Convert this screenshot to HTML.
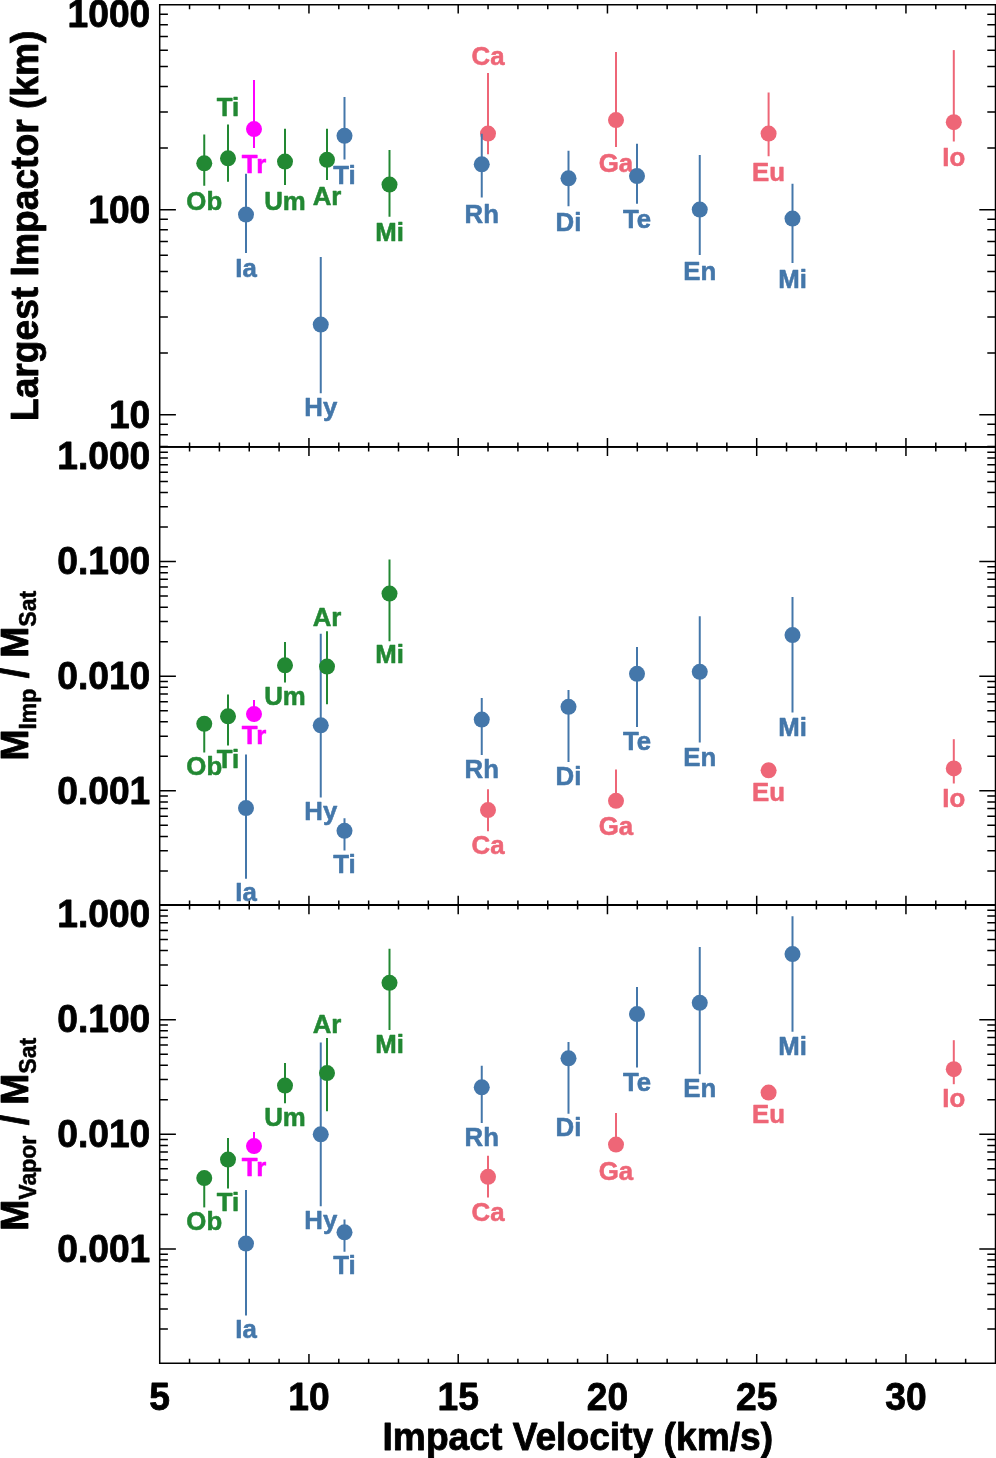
<!DOCTYPE html>
<html lang="en"><head><meta charset="utf-8"><title>Impact Velocity</title>
<style>
html,body{margin:0;padding:0;background:#fff;}
svg{display:block}
text{font-family:"Liberation Sans",Arial,Helvetica,sans-serif;font-weight:bold}
.ax{font-size:37.2px;fill:#000;stroke:#000;stroke-width:0.8;stroke-linejoin:round}
.lb{font-size:25.8px;text-anchor:middle;stroke-width:0.55;stroke-linejoin:round}
.tk{stroke:#000;stroke-width:1.5;fill:none;stroke-linecap:butt}
.eb{stroke-width:2.0;fill:none}
</style></head><body>
<svg width="996" height="1458" viewBox="0 0 996 1458">
<rect width="996" height="1458" fill="#fff"/>
<path class="tk" d="M158.95 4.80L996.50 4.80M158.95 446.90L996.50 446.90M158.95 905.00L996.50 905.00M158.95 1363.30L996.50 1363.30M159.70 4.80L159.70 1363.30M995.50 4.80L995.50 1363.30M159.70 4.80L159.70 13.60M159.70 438.10L159.70 456.10M159.70 895.80L159.70 914.20M159.70 1354.10L159.70 1363.30M189.55 4.80L189.55 9.20M189.55 442.50L189.55 451.50M189.55 900.40L189.55 909.60M189.55 1358.70L189.55 1363.30M219.40 4.80L219.40 9.20M219.40 442.50L219.40 451.50M219.40 900.40L219.40 909.60M219.40 1358.70L219.40 1363.30M249.25 4.80L249.25 9.20M249.25 442.50L249.25 451.50M249.25 900.40L249.25 909.60M249.25 1358.70L249.25 1363.30M279.10 4.80L279.10 9.20M279.10 442.50L279.10 451.50M279.10 900.40L279.10 909.60M279.10 1358.70L279.10 1363.30M308.95 4.80L308.95 13.60M308.95 438.10L308.95 456.10M308.95 895.80L308.95 914.20M308.95 1354.10L308.95 1363.30M338.80 4.80L338.80 9.20M338.80 442.50L338.80 451.50M338.80 900.40L338.80 909.60M338.80 1358.70L338.80 1363.30M368.65 4.80L368.65 9.20M368.65 442.50L368.65 451.50M368.65 900.40L368.65 909.60M368.65 1358.70L368.65 1363.30M398.50 4.80L398.50 9.20M398.50 442.50L398.50 451.50M398.50 900.40L398.50 909.60M398.50 1358.70L398.50 1363.30M428.35 4.80L428.35 9.20M428.35 442.50L428.35 451.50M428.35 900.40L428.35 909.60M428.35 1358.70L428.35 1363.30M458.20 4.80L458.20 13.60M458.20 438.10L458.20 456.10M458.20 895.80L458.20 914.20M458.20 1354.10L458.20 1363.30M488.05 4.80L488.05 9.20M488.05 442.50L488.05 451.50M488.05 900.40L488.05 909.60M488.05 1358.70L488.05 1363.30M517.90 4.80L517.90 9.20M517.90 442.50L517.90 451.50M517.90 900.40L517.90 909.60M517.90 1358.70L517.90 1363.30M547.75 4.80L547.75 9.20M547.75 442.50L547.75 451.50M547.75 900.40L547.75 909.60M547.75 1358.70L547.75 1363.30M577.60 4.80L577.60 9.20M577.60 442.50L577.60 451.50M577.60 900.40L577.60 909.60M577.60 1358.70L577.60 1363.30M607.45 4.80L607.45 13.60M607.45 438.10L607.45 456.10M607.45 895.80L607.45 914.20M607.45 1354.10L607.45 1363.30M637.30 4.80L637.30 9.20M637.30 442.50L637.30 451.50M637.30 900.40L637.30 909.60M637.30 1358.70L637.30 1363.30M667.15 4.80L667.15 9.20M667.15 442.50L667.15 451.50M667.15 900.40L667.15 909.60M667.15 1358.70L667.15 1363.30M697.00 4.80L697.00 9.20M697.00 442.50L697.00 451.50M697.00 900.40L697.00 909.60M697.00 1358.70L697.00 1363.30M726.85 4.80L726.85 9.20M726.85 442.50L726.85 451.50M726.85 900.40L726.85 909.60M726.85 1358.70L726.85 1363.30M756.70 4.80L756.70 13.60M756.70 438.10L756.70 456.10M756.70 895.80L756.70 914.20M756.70 1354.10L756.70 1363.30M786.55 4.80L786.55 9.20M786.55 442.50L786.55 451.50M786.55 900.40L786.55 909.60M786.55 1358.70L786.55 1363.30M816.40 4.80L816.40 9.20M816.40 442.50L816.40 451.50M816.40 900.40L816.40 909.60M816.40 1358.70L816.40 1363.30M846.25 4.80L846.25 9.20M846.25 442.50L846.25 451.50M846.25 900.40L846.25 909.60M846.25 1358.70L846.25 1363.30M876.10 4.80L876.10 9.20M876.10 442.50L876.10 451.50M876.10 900.40L876.10 909.60M876.10 1358.70L876.10 1363.30M905.95 4.80L905.95 13.60M905.95 438.10L905.95 456.10M905.95 895.80L905.95 914.20M905.95 1354.10L905.95 1363.30M935.80 4.80L935.80 9.20M935.80 442.50L935.80 451.50M935.80 900.40L935.80 909.60M935.80 1358.70L935.80 1363.30M965.65 4.80L965.65 9.20M965.65 442.50L965.65 451.50M965.65 900.40L965.65 909.60M965.65 1358.70L965.65 1363.30M995.50 4.80L995.50 9.20M995.50 442.50L995.50 451.50M995.50 900.40L995.50 909.60M995.50 1358.70L995.50 1363.30M159.70 446.55L167.90 446.55M987.30 446.55L995.50 446.55M159.70 434.67L167.90 434.67M987.30 434.67L995.50 434.67M159.70 424.18L167.90 424.18M987.30 424.18L995.50 424.18M159.70 414.80L175.90 414.80M979.30 414.80L995.50 414.80M159.70 353.09L167.90 353.09M987.30 353.09L995.50 353.09M159.70 316.99L167.90 316.99M987.30 316.99L995.50 316.99M159.70 291.38L167.90 291.38M987.30 291.38L995.50 291.38M159.70 271.51L167.90 271.51M987.30 271.51L995.50 271.51M159.70 255.28L167.90 255.28M987.30 255.28L995.50 255.28M159.70 241.55L167.90 241.55M987.30 241.55L995.50 241.55M159.70 229.67L167.90 229.67M987.30 229.67L995.50 229.67M159.70 219.18L167.90 219.18M987.30 219.18L995.50 219.18M159.70 209.80L175.90 209.80M979.30 209.80L995.50 209.80M159.70 148.09L167.90 148.09M987.30 148.09L995.50 148.09M159.70 111.99L167.90 111.99M987.30 111.99L995.50 111.99M159.70 86.38L167.90 86.38M987.30 86.38L995.50 86.38M159.70 66.51L167.90 66.51M987.30 66.51L995.50 66.51M159.70 50.28L167.90 50.28M987.30 50.28L995.50 50.28M159.70 36.55L167.90 36.55M987.30 36.55L995.50 36.55M159.70 24.67L167.90 24.67M987.30 24.67L995.50 24.67M159.70 14.18L167.90 14.18M987.30 14.18L995.50 14.18M159.70 4.80L175.90 4.80M979.30 4.80L995.50 4.80M159.70 870.99L167.90 870.99M987.30 870.99L995.50 870.99M159.70 850.80L167.90 850.80M987.30 850.80L995.50 850.80M159.70 836.47L167.90 836.47M987.30 836.47L995.50 836.47M159.70 825.36L167.90 825.36M987.30 825.36L995.50 825.36M159.70 816.28L167.90 816.28M987.30 816.28L995.50 816.28M159.70 808.61L167.90 808.61M987.30 808.61L995.50 808.61M159.70 801.96L167.90 801.96M987.30 801.96L995.50 801.96M159.70 796.10L167.90 796.10M987.30 796.10L995.50 796.10M159.70 790.85L175.90 790.85M979.30 790.85L995.50 790.85M159.70 756.34L167.90 756.34M987.30 756.34L995.50 756.34M159.70 736.15L167.90 736.15M987.30 736.15L995.50 736.15M159.70 721.82L167.90 721.82M987.30 721.82L995.50 721.82M159.70 710.71L167.90 710.71M987.30 710.71L995.50 710.71M159.70 701.63L167.90 701.63M987.30 701.63L995.50 701.63M159.70 693.96L167.90 693.96M987.30 693.96L995.50 693.96M159.70 687.31L167.90 687.31M987.30 687.31L995.50 687.31M159.70 681.45L167.90 681.45M987.30 681.45L995.50 681.45M159.70 676.20L175.90 676.20M979.30 676.20L995.50 676.20M159.70 641.69L167.90 641.69M987.30 641.69L995.50 641.69M159.70 621.50L167.90 621.50M987.30 621.50L995.50 621.50M159.70 607.17L167.90 607.17M987.30 607.17L995.50 607.17M159.70 596.06L167.90 596.06M987.30 596.06L995.50 596.06M159.70 586.98L167.90 586.98M987.30 586.98L995.50 586.98M159.70 579.31L167.90 579.31M987.30 579.31L995.50 579.31M159.70 572.66L167.90 572.66M987.30 572.66L995.50 572.66M159.70 566.80L167.90 566.80M987.30 566.80L995.50 566.80M159.70 561.55L175.90 561.55M979.30 561.55L995.50 561.55M159.70 527.04L167.90 527.04M987.30 527.04L995.50 527.04M159.70 506.85L167.90 506.85M987.30 506.85L995.50 506.85M159.70 492.52L167.90 492.52M987.30 492.52L995.50 492.52M159.70 481.41L167.90 481.41M987.30 481.41L995.50 481.41M159.70 472.33L167.90 472.33M987.30 472.33L995.50 472.33M159.70 464.66L167.90 464.66M987.30 464.66L995.50 464.66M159.70 458.01L167.90 458.01M987.30 458.01L995.50 458.01M159.70 452.15L167.90 452.15M987.30 452.15L995.50 452.15M159.70 1329.09L167.90 1329.09M987.30 1329.09L995.50 1329.09M159.70 1308.90L167.90 1308.90M987.30 1308.90L995.50 1308.90M159.70 1294.57L167.90 1294.57M987.30 1294.57L995.50 1294.57M159.70 1283.46L167.90 1283.46M987.30 1283.46L995.50 1283.46M159.70 1274.38L167.90 1274.38M987.30 1274.38L995.50 1274.38M159.70 1266.71L167.90 1266.71M987.30 1266.71L995.50 1266.71M159.70 1260.06L167.90 1260.06M987.30 1260.06L995.50 1260.06M159.70 1254.20L167.90 1254.20M987.30 1254.20L995.50 1254.20M159.70 1248.95L175.90 1248.95M979.30 1248.95L995.50 1248.95M159.70 1214.44L167.90 1214.44M987.30 1214.44L995.50 1214.44M159.70 1194.25L167.90 1194.25M987.30 1194.25L995.50 1194.25M159.70 1179.92L167.90 1179.92M987.30 1179.92L995.50 1179.92M159.70 1168.81L167.90 1168.81M987.30 1168.81L995.50 1168.81M159.70 1159.73L167.90 1159.73M987.30 1159.73L995.50 1159.73M159.70 1152.06L167.90 1152.06M987.30 1152.06L995.50 1152.06M159.70 1145.41L167.90 1145.41M987.30 1145.41L995.50 1145.41M159.70 1139.55L167.90 1139.55M987.30 1139.55L995.50 1139.55M159.70 1134.30L175.90 1134.30M979.30 1134.30L995.50 1134.30M159.70 1099.79L167.90 1099.79M987.30 1099.79L995.50 1099.79M159.70 1079.60L167.90 1079.60M987.30 1079.60L995.50 1079.60M159.70 1065.27L167.90 1065.27M987.30 1065.27L995.50 1065.27M159.70 1054.16L167.90 1054.16M987.30 1054.16L995.50 1054.16M159.70 1045.08L167.90 1045.08M987.30 1045.08L995.50 1045.08M159.70 1037.41L167.90 1037.41M987.30 1037.41L995.50 1037.41M159.70 1030.76L167.90 1030.76M987.30 1030.76L995.50 1030.76M159.70 1024.90L167.90 1024.90M987.30 1024.90L995.50 1024.90M159.70 1019.65L175.90 1019.65M979.30 1019.65L995.50 1019.65M159.70 985.14L167.90 985.14M987.30 985.14L995.50 985.14M159.70 964.95L167.90 964.95M987.30 964.95L995.50 964.95M159.70 950.62L167.90 950.62M987.30 950.62L995.50 950.62M159.70 939.51L167.90 939.51M987.30 939.51L995.50 939.51M159.70 930.43L167.90 930.43M987.30 930.43L995.50 930.43M159.70 922.76L167.90 922.76M987.30 922.76L995.50 922.76M159.70 916.11L167.90 916.11M987.30 916.11L995.50 916.11M159.70 910.25L167.90 910.25M987.30 910.25L995.50 910.25"/>
<path class="tk" style="stroke-width:1.85" d="M159.70 446.90H996.50M159.70 905.00H996.50"/>
<text class="ax" transform="translate(150.3,26.9) scale(1,1.02)" text-anchor="end">1000</text>
<text class="ax" transform="translate(150.3,222.9) scale(1,1.02)" text-anchor="end">100</text>
<text class="ax" transform="translate(150.3,427.7) scale(1,1.02)" text-anchor="end">10</text>
<text class="ax" transform="translate(150.3,468.7) scale(1,1.02)" text-anchor="end">1.000</text>
<text class="ax" transform="translate(150.3,574.1) scale(1,1.02)" text-anchor="end">0.100</text>
<text class="ax" transform="translate(150.3,688.8) scale(1,1.02)" text-anchor="end">0.010</text>
<text class="ax" transform="translate(150.3,803.5) scale(1,1.02)" text-anchor="end">0.001</text>
<text class="ax" transform="translate(150.3,927.2) scale(1,1.02)" text-anchor="end">1.000</text>
<text class="ax" transform="translate(150.3,1032.2) scale(1,1.02)" text-anchor="end">0.100</text>
<text class="ax" transform="translate(150.3,1146.9) scale(1,1.02)" text-anchor="end">0.010</text>
<text class="ax" transform="translate(150.3,1261.5) scale(1,1.02)" text-anchor="end">0.001</text>
<text class="ax" transform="translate(159.7,1410) scale(1,1.02)" text-anchor="middle">5</text>
<text class="ax" transform="translate(308.9,1410) scale(1,1.02)" text-anchor="middle">10</text>
<text class="ax" transform="translate(458.2,1410) scale(1,1.02)" text-anchor="middle">15</text>
<text class="ax" transform="translate(607.5,1410) scale(1,1.02)" text-anchor="middle">20</text>
<text class="ax" transform="translate(756.7,1410) scale(1,1.02)" text-anchor="middle">25</text>
<text class="ax" transform="translate(906.0,1410) scale(1,1.02)" text-anchor="middle">30</text>
<text class="ax" transform="translate(577.8,1450) scale(1,1.02)" text-anchor="middle">Impact Velocity (km/s)</text>
<text class="ax" transform="translate(38,225.8) rotate(-90) scale(1,1.02)" text-anchor="middle">Largest Impactor (km)</text>
<text class="ax" transform="translate(27.6,760.6) rotate(-90) scale(1,1.02)">M<tspan font-size="23.06" stroke-width="0.5" dy="8.6">Imp</tspan><tspan dy="-8.6"> / M</tspan><tspan font-size="23.06" stroke-width="0.5" dy="8.6">Sat</tspan></text>
<text class="ax" transform="translate(27.7,1230.7) rotate(-90) scale(1,1.02)">M<tspan font-size="23.06" stroke-width="0.5" dy="8.6">Vapor</tspan><tspan dy="-8.6"> / M</tspan><tspan font-size="23.06" stroke-width="0.5" dy="8.6">Sat</tspan></text>
<g id="panel1">
<g fill="#ee6677" stroke="none"><path class="eb" stroke="#ee6677" d="M488 73V154.25"/><circle cx="488" cy="133.55" r="8.0"/><text class="lb" stroke="#ee6677" transform="translate(488,64.5) scale(1,1.02)">Ca</text></g>
<g fill="#ee6677" stroke="none"><path class="eb" stroke="#ee6677" d="M616 52V147"/><circle cx="616" cy="120.05" r="8.0"/><text class="lb" stroke="#ee6677" transform="translate(616,171.75) scale(1,1.02)">Ga</text></g>
<g fill="#ee6677" stroke="none"><path class="eb" stroke="#ee6677" d="M768.6 92.5V156.25"/><circle cx="768.6" cy="133.55" r="8.0"/><text class="lb" stroke="#ee6677" transform="translate(768.6,180.75) scale(1,1.02)">Eu</text></g>
<g fill="#ee6677" stroke="none"><path class="eb" stroke="#ee6677" d="M953.8 50.1V141.5"/><circle cx="953.8" cy="122.20" r="8.0"/><text class="lb" stroke="#ee6677" transform="translate(953.8,166.2) scale(1,1.02)">Io</text></g>
<g fill="#4477aa" stroke="none"><path class="eb" stroke="#4477aa" d="M246 173.75V253"/><circle cx="246" cy="214.55" r="8.0"/><text class="lb" stroke="#4477aa" transform="translate(246,277) scale(1,1.02)">Ia</text></g>
<g fill="#4477aa" stroke="none"><path class="eb" stroke="#4477aa" d="M320.75 257V393.25"/><circle cx="320.75" cy="324.55" r="8.0"/><text class="lb" stroke="#4477aa" transform="translate(320.75,416.25) scale(1,1.02)">Hy</text></g>
<g fill="#4477aa" stroke="none"><path class="eb" stroke="#4477aa" d="M344.5 97V159.5"/><circle cx="344.5" cy="135.80" r="8.0"/><text class="lb" stroke="#4477aa" transform="translate(344.5,183.75) scale(1,1.02)">Ti</text></g>
<g fill="#4477aa" stroke="none"><path class="eb" stroke="#4477aa" d="M481.75 133.75V197.5"/><circle cx="481.75" cy="164.30" r="8.0"/><text class="lb" stroke="#4477aa" transform="translate(481.75,222.5) scale(1,1.02)">Rh</text></g>
<g fill="#4477aa" stroke="none"><path class="eb" stroke="#4477aa" d="M568.5 150.75V206.25"/><circle cx="568.5" cy="178.30" r="8.0"/><text class="lb" stroke="#4477aa" transform="translate(568.5,230.5) scale(1,1.02)">Di</text></g>
<g fill="#4477aa" stroke="none"><path class="eb" stroke="#4477aa" d="M637 143.75V203.75"/><circle cx="637" cy="176.05" r="8.0"/><text class="lb" stroke="#4477aa" transform="translate(637,228.25) scale(1,1.02)">Te</text></g>
<g fill="#4477aa" stroke="none"><path class="eb" stroke="#4477aa" d="M699.75 155V255"/><circle cx="699.75" cy="209.55" r="8.0"/><text class="lb" stroke="#4477aa" transform="translate(699.75,280) scale(1,1.02)">En</text></g>
<g fill="#4477aa" stroke="none"><path class="eb" stroke="#4477aa" d="M792.5 183.75V263"/><circle cx="792.5" cy="218.55" r="8.0"/><text class="lb" stroke="#4477aa" transform="translate(792.5,287.5) scale(1,1.02)">Mi</text></g>
<g fill="#228833" stroke="none"><path class="eb" stroke="#228833" d="M204.25 134.5V185.75"/><circle cx="204.25" cy="163.30" r="8.0"/><text class="lb" stroke="#228833" transform="translate(204.25,210) scale(1,1.02)">Ob</text></g>
<g fill="#228833" stroke="none"><path class="eb" stroke="#228833" d="M228 124.5V181.75"/><circle cx="228" cy="158.30" r="8.0"/><text class="lb" stroke="#228833" transform="translate(228,115.5) scale(1,1.02)">Ti</text></g>
<g fill="#228833" stroke="none"><path class="eb" stroke="#228833" d="M285 128.75V185"/><circle cx="285" cy="161.55" r="8.0"/><text class="lb" stroke="#228833" transform="translate(285,209.8) scale(1,1.02)">Um</text></g>
<g fill="#228833" stroke="none"><path class="eb" stroke="#228833" d="M327 128.75V180"/><circle cx="327" cy="159.80" r="8.0"/><text class="lb" stroke="#228833" transform="translate(327,204.8) scale(1,1.02)">Ar</text></g>
<g fill="#228833" stroke="none"><path class="eb" stroke="#228833" d="M389.5 150V216.75"/><circle cx="389.5" cy="184.55" r="8.0"/><text class="lb" stroke="#228833" transform="translate(389.5,240.5) scale(1,1.02)">Mi</text></g>
<g fill="#ff00ff" stroke="none"><path class="eb" stroke="#ff00ff" d="M254 80V148"/><circle cx="254" cy="129.05" r="8.0"/><text class="lb" stroke="#ff00ff" transform="translate(254,172.5) scale(1,1.02)">Tr</text></g>
</g>
<g id="panel2">
<g fill="#ee6677" stroke="none"><path class="eb" stroke="#ee6677" d="M488 789.25V831.25"/><circle cx="488" cy="810.05" r="8.0"/><text class="lb" stroke="#ee6677" transform="translate(488,854.25) scale(1,1.02)">Ca</text></g>
<g fill="#ee6677" stroke="none"><path class="eb" stroke="#ee6677" d="M616 769.5V800.5"/><circle cx="616" cy="800.80" r="8.0"/><text class="lb" stroke="#ee6677" transform="translate(616,835) scale(1,1.02)">Ga</text></g>
<g fill="#ee6677" stroke="none"><circle cx="768.6" cy="770.30" r="8.0"/><text class="lb" stroke="#ee6677" transform="translate(768.6,801.25) scale(1,1.02)">Eu</text></g>
<g fill="#ee6677" stroke="none"><path class="eb" stroke="#ee6677" d="M953.8 739.2V783.5"/><circle cx="953.8" cy="768.40" r="8.0"/><text class="lb" stroke="#ee6677" transform="translate(953.8,806.7) scale(1,1.02)">Io</text></g>
<g fill="#4477aa" stroke="none"><path class="eb" stroke="#4477aa" d="M246 754.5V878.75"/><circle cx="246" cy="808.05" r="8.0"/><text class="lb" stroke="#4477aa" transform="translate(246,901.25) scale(1,1.02)">Ia</text></g>
<g fill="#4477aa" stroke="none"><path class="eb" stroke="#4477aa" d="M320.75 633.75V797.5"/><circle cx="320.75" cy="725.30" r="8.0"/><text class="lb" stroke="#4477aa" transform="translate(320.75,820) scale(1,1.02)">Hy</text></g>
<g fill="#4477aa" stroke="none"><path class="eb" stroke="#4477aa" d="M344.5 818.25V850.5"/><circle cx="344.5" cy="830.80" r="8.0"/><text class="lb" stroke="#4477aa" transform="translate(344.5,872.5) scale(1,1.02)">Ti</text></g>
<g fill="#4477aa" stroke="none"><path class="eb" stroke="#4477aa" d="M481.75 698V755"/><circle cx="481.75" cy="719.55" r="8.0"/><text class="lb" stroke="#4477aa" transform="translate(481.75,778) scale(1,1.02)">Rh</text></g>
<g fill="#4477aa" stroke="none"><path class="eb" stroke="#4477aa" d="M568.5 690V762"/><circle cx="568.5" cy="706.80" r="8.0"/><text class="lb" stroke="#4477aa" transform="translate(568.5,784.5) scale(1,1.02)">Di</text></g>
<g fill="#4477aa" stroke="none"><path class="eb" stroke="#4477aa" d="M637 647V727"/><circle cx="637" cy="673.80" r="8.0"/><text class="lb" stroke="#4477aa" transform="translate(637,750) scale(1,1.02)">Te</text></g>
<g fill="#4477aa" stroke="none"><path class="eb" stroke="#4477aa" d="M699.75 616.25V742.5"/><circle cx="699.75" cy="671.80" r="8.0"/><text class="lb" stroke="#4477aa" transform="translate(699.75,765.75) scale(1,1.02)">En</text></g>
<g fill="#4477aa" stroke="none"><path class="eb" stroke="#4477aa" d="M792.5 597V712.5"/><circle cx="792.5" cy="635.05" r="8.0"/><text class="lb" stroke="#4477aa" transform="translate(792.5,735.75) scale(1,1.02)">Mi</text></g>
<g fill="#228833" stroke="none"><path class="eb" stroke="#228833" d="M204.25 723.5V752.5"/><circle cx="204.25" cy="723.80" r="8.0"/><text class="lb" stroke="#228833" transform="translate(204.25,774.5) scale(1,1.02)">Ob</text></g>
<g fill="#228833" stroke="none"><path class="eb" stroke="#228833" d="M228 694.5V745.5"/><circle cx="228" cy="716.30" r="8.0"/><text class="lb" stroke="#228833" transform="translate(228,767.5) scale(1,1.02)">Ti</text></g>
<g fill="#228833" stroke="none"><path class="eb" stroke="#228833" d="M285 642V682.5"/><circle cx="285" cy="665.30" r="8.0"/><text class="lb" stroke="#228833" transform="translate(285,705) scale(1,1.02)">Um</text></g>
<g fill="#228833" stroke="none"><path class="eb" stroke="#228833" d="M327 631.25V704.25"/><circle cx="327" cy="666.55" r="8.0"/><text class="lb" stroke="#228833" transform="translate(327,625.75) scale(1,1.02)">Ar</text></g>
<g fill="#228833" stroke="none"><path class="eb" stroke="#228833" d="M389.5 559.5V641.25"/><circle cx="389.5" cy="593.55" r="8.0"/><text class="lb" stroke="#228833" transform="translate(389.5,663) scale(1,1.02)">Mi</text></g>
<g fill="#ff00ff" stroke="none"><path class="eb" stroke="#ff00ff" d="M254 700V713.75"/><circle cx="254" cy="714.05" r="8.0"/><text class="lb" stroke="#ff00ff" transform="translate(254,744.25) scale(1,1.02)">Tr</text></g>
</g>
<g id="panel3">
<g fill="#ee6677" stroke="none"><path class="eb" stroke="#ee6677" d="M488 1155.75V1197.5"/><circle cx="488" cy="1176.80" r="8.0"/><text class="lb" stroke="#ee6677" transform="translate(488,1220.75) scale(1,1.02)">Ca</text></g>
<g fill="#ee6677" stroke="none"><path class="eb" stroke="#ee6677" d="M616 1113V1144.25"/><circle cx="616" cy="1144.55" r="8.0"/><text class="lb" stroke="#ee6677" transform="translate(616,1180) scale(1,1.02)">Ga</text></g>
<g fill="#ee6677" stroke="none"><circle cx="768.6" cy="1092.55" r="8.0"/><text class="lb" stroke="#ee6677" transform="translate(768.6,1122.5) scale(1,1.02)">Eu</text></g>
<g fill="#ee6677" stroke="none"><path class="eb" stroke="#ee6677" d="M953.8 1040.2V1084.2"/><circle cx="953.8" cy="1069.20" r="8.0"/><text class="lb" stroke="#ee6677" transform="translate(953.8,1107.4) scale(1,1.02)">Io</text></g>
<g fill="#4477aa" stroke="none"><path class="eb" stroke="#4477aa" d="M246 1189.9V1315.5"/><circle cx="246" cy="1243.60" r="8.0"/><text class="lb" stroke="#4477aa" transform="translate(246,1338.1) scale(1,1.02)">Ia</text></g>
<g fill="#4477aa" stroke="none"><path class="eb" stroke="#4477aa" d="M320.75 1042.5V1206.25"/><circle cx="320.75" cy="1134.30" r="8.0"/><text class="lb" stroke="#4477aa" transform="translate(320.75,1228.75) scale(1,1.02)">Hy</text></g>
<g fill="#4477aa" stroke="none"><path class="eb" stroke="#4477aa" d="M344.5 1219.5V1251.75"/><circle cx="344.5" cy="1232.30" r="8.0"/><text class="lb" stroke="#4477aa" transform="translate(344.5,1273.75) scale(1,1.02)">Ti</text></g>
<g fill="#4477aa" stroke="none"><path class="eb" stroke="#4477aa" d="M481.75 1065.75V1123"/><circle cx="481.75" cy="1087.30" r="8.0"/><text class="lb" stroke="#4477aa" transform="translate(481.75,1146.25) scale(1,1.02)">Rh</text></g>
<g fill="#4477aa" stroke="none"><path class="eb" stroke="#4477aa" d="M568.5 1042V1113.75"/><circle cx="568.5" cy="1058.30" r="8.0"/><text class="lb" stroke="#4477aa" transform="translate(568.5,1136.25) scale(1,1.02)">Di</text></g>
<g fill="#4477aa" stroke="none"><path class="eb" stroke="#4477aa" d="M637 987V1067.5"/><circle cx="637" cy="1014.05" r="8.0"/><text class="lb" stroke="#4477aa" transform="translate(637,1090.5) scale(1,1.02)">Te</text></g>
<g fill="#4477aa" stroke="none"><path class="eb" stroke="#4477aa" d="M699.75 947V1074.25"/><circle cx="699.75" cy="1002.80" r="8.0"/><text class="lb" stroke="#4477aa" transform="translate(699.75,1097) scale(1,1.02)">En</text></g>
<g fill="#4477aa" stroke="none"><path class="eb" stroke="#4477aa" d="M792.5 916.25V1031.75"/><circle cx="792.5" cy="954.05" r="8.0"/><text class="lb" stroke="#4477aa" transform="translate(792.5,1055) scale(1,1.02)">Mi</text></g>
<g fill="#228833" stroke="none"><path class="eb" stroke="#228833" d="M204.25 1177.75V1207.4"/><circle cx="204.25" cy="1178.05" r="8.0"/><text class="lb" stroke="#228833" transform="translate(204.25,1230) scale(1,1.02)">Ob</text></g>
<g fill="#228833" stroke="none"><path class="eb" stroke="#228833" d="M228 1138V1188.4"/><circle cx="228" cy="1159.55" r="8.0"/><text class="lb" stroke="#228833" transform="translate(228,1211.2) scale(1,1.02)">Ti</text></g>
<g fill="#228833" stroke="none"><path class="eb" stroke="#228833" d="M285 1063V1103.25"/><circle cx="285" cy="1085.55" r="8.0"/><text class="lb" stroke="#228833" transform="translate(285,1126.25) scale(1,1.02)">Um</text></g>
<g fill="#228833" stroke="none"><path class="eb" stroke="#228833" d="M327 1038V1111.25"/><circle cx="327" cy="1073.05" r="8.0"/><text class="lb" stroke="#228833" transform="translate(327,1032.5) scale(1,1.02)">Ar</text></g>
<g fill="#228833" stroke="none"><path class="eb" stroke="#228833" d="M389.5 948.75V1030"/><circle cx="389.5" cy="982.80" r="8.0"/><text class="lb" stroke="#228833" transform="translate(389.5,1053) scale(1,1.02)">Mi</text></g>
<g fill="#ff00ff" stroke="none"><path class="eb" stroke="#ff00ff" d="M254 1132V1145.75"/><circle cx="254" cy="1146.05" r="8.0"/><text class="lb" stroke="#ff00ff" transform="translate(254,1176.25) scale(1,1.02)">Tr</text></g>
</g>
</svg></body></html>
